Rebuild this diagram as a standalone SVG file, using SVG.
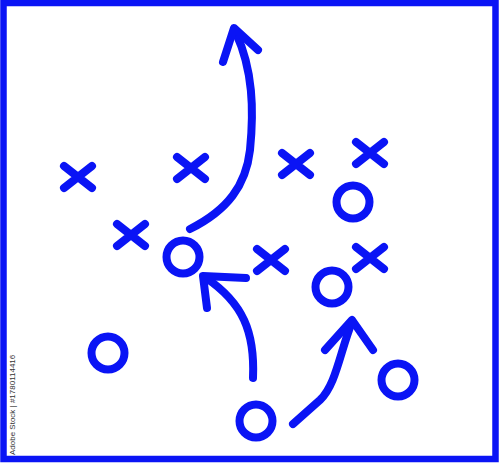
<svg xmlns="http://www.w3.org/2000/svg" width="500" height="463" viewBox="0 0 500 463">
<style>
.ln{fill:none;stroke:#0a14f5;stroke-width:8;stroke-linecap:round;stroke-linejoin:round}
.o{fill:none;stroke:#0a14f5;stroke-width:8}
.id{font-family:"Liberation Sans",Arial,sans-serif;font-size:8px;fill:#333}
</style>
<defs>
<path id="x" class="ln" d="M-14,-11 L14,11 M-14,11 L14,-11"/>
</defs>
<rect x="3.5" y="3" width="492" height="456" fill="#fff" stroke="#0a14f5" stroke-width="6.5"/>
<g id="connectors">
<path class="ln" d="M190,229 C228,210 246,185 250,150 C254,110 253,70 236,33"/>
<path class="ln" d="M223,62 L234,28 L258,50"/>
<path class="ln" d="M253,378 C255,332 243,303 206,278"/>
<path class="ln" d="M207,308 L203,276 L246,278"/>
<path class="ln" d="M293,424 L320,400 C336,385 340,352 352,322"/>
<path class="ln" d="M325,350 L352,320 L373,350"/>
</g>
<g id="x1"><use href="#x" x="78" y="177"/></g>
<g id="x2"><use href="#x" x="191" y="168"/></g>
<g id="x3"><use href="#x" x="296" y="164"/></g>
<g id="x4"><use href="#x" x="370" y="153"/></g>
<g id="x5"><use href="#x" x="131" y="235"/></g>
<g id="x6"><use href="#x" x="271" y="260"/></g>
<g id="x7"><use href="#x" x="370" y="258"/></g>
<g id="o1"><circle class="o" cx="353" cy="202" r="16.5"/></g>
<g id="o2"><circle class="o" cx="183" cy="257" r="16.5"/></g>
<g id="o3"><circle class="o" cx="332" cy="287" r="16.5"/></g>
<g id="o4"><circle class="o" cx="108" cy="353" r="16.5"/></g>
<g id="o5"><circle class="o" cx="398" cy="380" r="16.5"/></g>
<g id="o6"><circle class="o" cx="256" cy="421" r="16.5"/></g>
<text class="id" transform="translate(15,455) rotate(-90)">Adobe Stock | #1780114416</text>
</svg>
